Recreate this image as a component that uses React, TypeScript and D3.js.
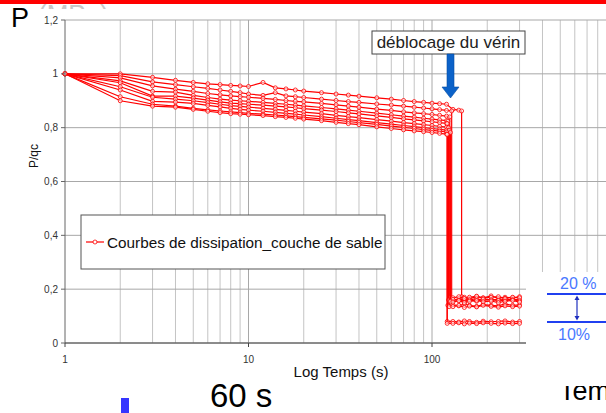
import React from "react";
import * as d3 from "d3";

// temps (s) communs avant le déblocage
const times = [1, 2, 3, 4, 5, 6, 7, 8, 9, 10, 12, 14, 16, 18, 20, 25, 30, 35, 40, 50, 60, 70, 80, 90, 100, 110, 120, 130, 140];

// P/qc lu sur chaque courbe (null = courbe déjà tombée)
const curveA = [1.0, 1.0, 0.987, 0.976, 0.968, 0.963, 0.96, 0.957, 0.955, 0.953, 0.968, 0.948, 0.944, 0.94, 0.936, 0.93, 0.925, 0.921, 0.917, 0.911, 0.906, 0.901, 0.897, 0.894, 0.891, 0.889, 0.887, 0.868, 0.865];
const curveB = [1.0, 0.993, 0.97, 0.96, 0.952, 0.946, 0.94, 0.935, 0.93, 0.925, 0.92, 0.93, 0.918, 0.915, 0.912, 0.906, 0.901, 0.897, 0.894, 0.888, 0.884, 0.88, 0.876, 0.873, 0.87, 0.867, 0.864, null, null];
const curveC = [1.0, 0.985, 0.955, 0.943, 0.935, 0.927, 0.922, 0.918, 0.915, 0.913, 0.909, 0.905, 0.901, 0.898, 0.896, 0.89, 0.885, 0.88, 0.876, 0.869, 0.864, 0.859, 0.855, 0.852, 0.849, 0.846, 0.843, null, null];
const curveD = [1.0, 0.974, 0.935, 0.932, 0.92, 0.912, 0.906, 0.902, 0.9, 0.898, 0.894, 0.89, 0.887, 0.884, 0.881, 0.875, 0.87, 0.865, 0.861, 0.854, 0.848, 0.843, 0.839, 0.835, 0.832, 0.829, 0.826, null, null];
const curveE = [1.0, 0.967, 0.917, 0.917, 0.91, 0.902, 0.896, 0.891, 0.889, 0.887, 0.884, 0.88, 0.877, 0.874, 0.871, 0.865, 0.86, 0.855, 0.851, 0.844, 0.838, 0.833, 0.829, 0.825, 0.822, 0.819, 0.816, null, null];
const curveF = [1.0, 0.952, 0.913, 0.906, 0.9, 0.893, 0.887, 0.882, 0.879, 0.876, 0.872, 0.868, 0.864, 0.861, 0.858, 0.852, 0.846, 0.841, 0.837, 0.83, 0.824, 0.819, 0.815, 0.811, 0.808, 0.805, 0.802, null, null];
const curveG = [1.0, 0.94, 0.898, 0.895, 0.89, 0.883, 0.877, 0.872, 0.868, 0.865, 0.861, 0.857, 0.853, 0.85, 0.847, 0.841, 0.835, 0.83, 0.826, 0.819, 0.813, 0.808, 0.804, 0.8, 0.797, 0.794, 0.791, null, null];
const curveH = [1.0, 0.915, 0.887, 0.88, 0.872, 0.866, 0.862, 0.859, 0.856, 0.853, 0.85, 0.847, 0.844, 0.841, 0.838, 0.833, 0.828, 0.823, 0.819, 0.812, 0.806, 0.801, 0.797, 0.793, 0.79, 0.787, 0.784, null, null];
const curveI = [1.0, 0.9, 0.88, 0.876, 0.868, 0.861, 0.856, 0.852, 0.85, 0.848, 0.845, 0.841, 0.838, 0.835, 0.832, 0.826, 0.82, 0.815, 0.811, 0.803, 0.797, 0.792, 0.788, 0.785, 0.782, 0.779, 0.776, null, null];

// déblocage : temps, niveau juste avant, niveau juste après
const dropTimes = [145, 128, 125, 122, 121, 123, 124, 126, 121];
const dropBefore = [0.862, 0.862, 0.84, 0.824, 0.815, 0.8, 0.79, 0.782, 0.775];
const dropAfter = [0.172, 0.16, 0.17, 0.14, 0.08, 0.16, 0.135, 0.155, 0.073];

// après déblocage
const postTimes = [130, 140, 150, 160, 175, 190, 210, 230, 250, 275, 300];
const postA = [null, null, 0.17, 0.165, 0.172, 0.168, 0.175, 0.166, 0.17, 0.168, 0.172];
const postB = [0.158, 0.163, 0.155, 0.16, 0.165, 0.158, 0.162, 0.16, 0.156, 0.163, 0.16];
const postC = [0.168, 0.172, 0.165, 0.17, 0.174, 0.167, 0.17, 0.172, 0.166, 0.17, 0.168];
const postD = [0.142, 0.138, 0.145, 0.14, 0.136, 0.143, 0.14, 0.138, 0.145, 0.14, 0.142];
const postE = [0.08, 0.078, 0.082, 0.08, 0.077, 0.081, 0.079, 0.08, 0.082, 0.078, 0.08];
const postF = [0.162, 0.158, 0.165, 0.16, 0.155, 0.163, 0.16, 0.158, 0.164, 0.16, 0.157];
const postG = [0.135, 0.14, 0.132, 0.137, 0.134, 0.14, 0.136, 0.133, 0.138, 0.135, 0.137];
const postH = [0.152, 0.157, 0.15, 0.155, 0.158, 0.153, 0.156, 0.15, 0.155, 0.158, 0.152];
const postI = [0.073, 0.075, 0.071, 0.074, 0.072, 0.075, 0.073, 0.071, 0.074, 0.072, 0.073];

const yTicks = [0, 0.2, 0.4, 0.6, 0.8, 1, 1.2];
const xTicks = [1, 10, 100];
const legendLabel = "Courbes de dissipation_couche de sable";
const noteLabel = "déblocage du vérin";

const preCurves = [curveA, curveB, curveC, curveD, curveE, curveF, curveG, curveH, curveI];
const postCurves = [postA, postB, postC, postD, postE, postF, postG, postH, postI];

const FONT = "Liberation Sans, Arial, sans-serif";
const RED = "#ff0000";

const App = () => {
  const W = 606;
  const H = 413;
  const margin = { top: 20, left: 65, bottom: 70 };

  const x = d3.scaleLog().domain([1, 1000]).range([margin.left, 615.5]);
  const y = d3.scaleLinear().domain([0, 1.2]).range([H - margin.bottom, margin.top]);

  const line = d3
    .line<[number, number]>()
    .x((d) => x(d[0]))
    .y((d) => y(d[1]));

  const series = preCurves.map((vals, i) => {
    const pts: [number, number][] = [];
    vals.forEach((v, j) => {
      if (v != null && times[j] < dropTimes[i]) pts.push([times[j], v]);
    });
    pts.push([dropTimes[i], dropBefore[i]]);
    pts.push([dropTimes[i], dropAfter[i]]);
    postCurves[i].forEach((v, j) => {
      if (v != null && postTimes[j] > dropTimes[i]) pts.push([postTimes[j], v]);
    });
    return pts;
  });

  const minor: number[] = [];
  for (let dec = 1; dec < 1000; dec *= 10) {
    for (let k = 2; k <= 9; k++) minor.push(dec * k);
  }
  const fmt = (v: number) => d3.format("~g")(v).replace(".", ",");

  return (
    <svg
      width={W}
      height={H}
      style={{ position: "absolute", left: 0, top: 0, background: "#fff" }}
      fontFamily={FONT}
    >
      <defs>
        <clipPath id="ghost">
          <rect x={30} y={4} width={90} height={5} />
        </clipPath>
      </defs>
      <rect width={W} height={H} fill="#fff" />

      {/* titre coupé */}
      <g clipPath="url(#ghost)">
        <text x={38} y={23} fontSize={26} fill="#c8c8c8">(MPa)</text>
      </g>
      <text x={11} y={27} fontSize={27} fill="#000">P</text>
      <rect x={0} y={0} width={W} height={4} fill={RED} />

      {/* grille */}
      {minor.map((t) => (
        <line key={"m" + t} x1={x(t)} x2={x(t)} y1={y(1.2)} y2={y(0)} stroke="#c4c4c4" />
      ))}
      {[10, 100, 1000].map((t) => (
        <line key={"d" + t} x1={x(t)} x2={x(t)} y1={y(1.2)} y2={y(0)} stroke="#a8a8a8" />
      ))}
      {yTicks.map((t) => (
        <line key={"h" + t} x1={margin.left} x2={W} y1={y(t)} y2={y(t)} stroke="#a8a8a8" />
      ))}

      {/* courbes */}
      {series.map((pts, i) => (
        <g key={"c" + i}>
          <path d={line(pts) || ""} fill="none" stroke={RED} strokeWidth={1.2} />
          {pts.map((p, j) => (
            <circle key={j} cx={x(p[0])} cy={y(p[1])} r={2} fill="#fff" fillOpacity={0.6} stroke={RED} strokeWidth={0.8} />
          ))}
        </g>
      ))}

      {/* axes */}
      <line x1={margin.left} x2={margin.left} y1={y(1.2)} y2={y(0)} stroke="#666" />
      {yTicks.map((t) => (
        <g key={"yt" + t}>
          <line x1={margin.left - 4} x2={margin.left} y1={y(t)} y2={y(t)} stroke="#666" />
          <text x={margin.left - 7} y={y(t) + 3.5} fontSize={10} textAnchor="end" fill="#333">
            {fmt(t)}
          </text>
        </g>
      ))}
      <line x1={margin.left} x2={W} y1={y(0)} y2={y(0)} stroke="#444" />
      {xTicks.map((t) => (
        <g key={"xt" + t}>
          <line x1={x(t)} x2={x(t)} y1={y(0)} y2={y(0) + 4} stroke="#444" />
          <text x={x(t)} y={y(0) + 20} fontSize={10} textAnchor="middle" fill="#333">
            {t}
          </text>
        </g>
      ))}
      <text x={341} y={377} fontSize={15} textAnchor="middle" fill="#111">Log Temps (s)</text>
      <text transform={`translate(38,156) rotate(-90)`} fontSize={12} textAnchor="middle" fill="#111">P/qc</text>

      {/* légende */}
      <rect x={81} y={215} width={304} height={54} fill="#fff" stroke="#555" />
      <line x1={86} x2={104} y1={242} y2={242} stroke={RED} strokeWidth={1.2} />
      <circle cx={95} cy={242} r={2} fill="#fff" stroke={RED} strokeWidth={0.8} />
      <text x={107} y={247.5} fontSize={15.3} fill="#111">{legendLabel}</text>

      {/* annotation déblocage */}
      <rect x={372} y={31} width={153} height={23} fill="#fff" stroke="#444" />
      <text x={448.5} y={48} fontSize={17} textAnchor="middle" fill="#222">{noteLabel}</text>
      <path d="M447,54 L454,54 L454,87 L459,87 L450.5,98 L442,87 L447,87 Z" fill="#0b62c9" stroke="#094fa3" strokeWidth={0.6} />

      {/* encart 20 % / 10 % */}
      <rect x={526} y={272} width={80} height={141} fill="#fff" />
      <text x={560} y={289} fontSize={16} fill="#4a78ff">20 %</text>
      <line x1={547} x2={W} y1={294} y2={294} stroke="#2040f0" strokeWidth={2} />
      <line x1={547} x2={W} y1={322} y2={322} stroke="#2040f0" strokeWidth={2} />
      <line x1={577} x2={577} y1={297} y2={319} stroke="#1f2fbf" strokeWidth={1.2} />
      <path d="M577,295.5 L579.5,300 L574.5,300 Z" fill="#1f2fbf" />
      <path d="M577,320.5 L579.5,316 L574.5,316 Z" fill="#1f2fbf" />
      <text x={558} y={340} fontSize={16} fill="#4a78ff">10%</text>

      {/* textes du bas */}
      <text x={210} y={407} fontSize={33} fill="#000">60 s</text>
      <rect x={121} y={398} width={8} height={15} fill="#3535ff" />
      <text x={559} y={400} fontSize={27} fill="#000">Temps</text>
      <rect x={540} y={370} width={70} height={16} fill="#fff" />
    </svg>
  );
};

export default App;
